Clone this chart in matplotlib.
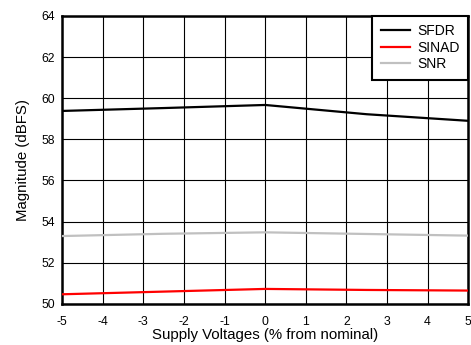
import matplotlib
matplotlib.use("Agg")
import matplotlib.pyplot as plt
import numpy as np

plt.rcParams['font.family'] = ['Liberation Sans', 'DejaVu Sans']
plt.rcParams['axes.unicode_minus'] = False

supply = [-5, -2.5, 0, 2.5, 5]
sfdr = [59.38, 59.52, 59.67, 59.22, 58.9]
sinad = [50.47, 50.6, 50.73, 50.68, 50.65]
snr = [53.3, 53.41, 53.48, 53.4, 53.32]

xticks = list(range(-5, 6))
yticks = list(range(50, 65, 2))

fig = plt.figure(figsize=(4.71, 3.45), dpi=100)
ax = fig.add_axes([0.132, 0.119, 0.862, 0.835])

ax.plot(supply, sfdr, color='black', lw=1.6, label='SFDR', zorder=3)
ax.plot(supply, sinad, color='#ff0000', lw=1.6, label='SINAD', zorder=3)
ax.plot(supply, snr, color='#c0c0c0', lw=1.6, label='SNR', zorder=3)

ax.set_xlim(-5, 5)
ax.set_ylim(50, 64)
ax.set_xticks(xticks)
ax.set_yticks(yticks)
ax.tick_params(length=0, labelsize=8.8)
ax.tick_params(axis='x', pad=9)
ax.tick_params(axis='y', pad=5)
ax.grid(True, color='black', lw=0.8)
for s in ax.spines.values():
    s.set_linewidth(1.8)

ax.set_xlabel('Supply Voltages (% from nominal)', fontsize=10.8, labelpad=0)
ax.set_ylabel('Magnitude (dBFS)', fontsize=10.8, labelpad=8)

leg = ax.legend(loc='upper right', fontsize=10, fancybox=False, framealpha=1,
                borderaxespad=0, handlelength=2.1, handletextpad=0.55,
                borderpad=0.6, labelspacing=0.18)
leg.get_frame().set_edgecolor('black')
leg.get_frame().set_linewidth(1.5)

fig.savefig('out.png', dpi=100)
